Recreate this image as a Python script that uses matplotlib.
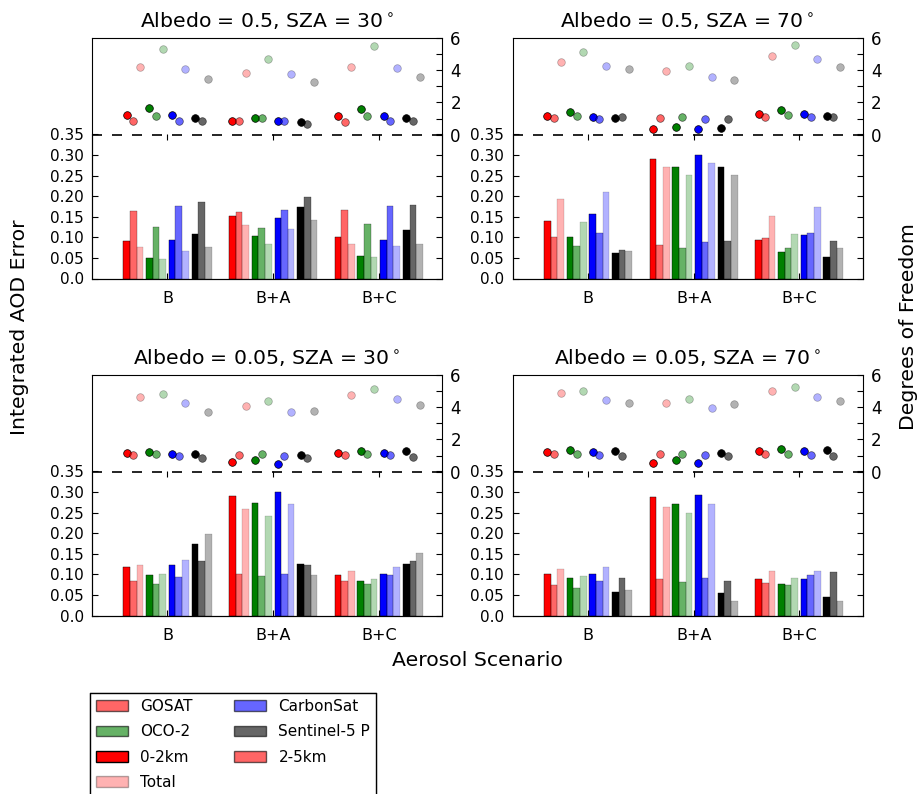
import matplotlib
matplotlib.use('Agg')
import matplotlib.pyplot as plt
from matplotlib.patches import Patch
from matplotlib.ticker import MultipleLocator

scenarios = ['B', 'B+A', 'B+C']
instruments = ['GOSAT', 'OCO-2', 'CarbonSat', 'Sentinel-5 P']
inst_colors = ['red', 'green', 'blue', 'black']
layer_alpha = [1.0, 0.6, 0.3]   # 0-2km, 2-5km, Total

titles = ['Albedo = 0.5, SZA = 30$^\\circ$', 'Albedo = 0.5, SZA = 70$^\\circ$',
          'Albedo = 0.05, SZA = 30$^\\circ$', 'Albedo = 0.05, SZA = 70$^\\circ$']

# rows: GOSAT, OCO-2, CarbonSat, Sentinel-5 P ; columns: B, B+A, B+C
# albedo 0.5, sza 30
aod_02_a = [[0.091, 0.152, 0.100], [0.050, 0.103, 0.055], [0.094, 0.147, 0.094], [0.109, 0.173, 0.118]]
aod_25_a = [[0.164, 0.161, 0.167], [0.126, 0.123, 0.132], [0.176, 0.167, 0.176], [0.185, 0.199, 0.179]]
aod_tot_a = [[0.076, 0.129, 0.085], [0.047, 0.085, 0.053], [0.067, 0.120, 0.079], [0.076, 0.141, 0.085]]
dof_02_a = [[1.24, 0.85, 1.18], [1.63, 1.03, 1.61], [1.20, 0.85, 1.18], [1.03, 0.78, 1.03]]
dof_25_a = [[0.85, 0.85, 0.80], [1.15, 1.05, 1.15], [0.82, 0.85, 0.82], [0.82, 0.68, 0.82]]
dof_tot_a = [[4.19, 3.81, 4.23], [5.32, 4.68, 5.48], [4.08, 3.77, 4.16], [3.46, 3.26, 3.57]]

# albedo 0.5, sza 70
aod_02_b = [[0.140, 0.290, 0.094], [0.100, 0.270, 0.064], [0.156, 0.301, 0.105], [0.062, 0.270, 0.053]]
aod_25_b = [[0.102, 0.081, 0.099], [0.079, 0.075, 0.075], [0.111, 0.088, 0.111], [0.070, 0.091, 0.091]]
aod_tot_b = [[0.193, 0.270, 0.152], [0.137, 0.251, 0.109], [0.211, 0.281, 0.173], [0.067, 0.251, 0.075]]
dof_02_b = [[1.15, 0.37, 1.28], [1.40, 0.47, 1.51], [1.09, 0.33, 1.26], [1.05, 0.43, 1.15]]
dof_25_b = [[1.03, 1.05, 1.07], [1.15, 1.13, 1.20], [0.99, 0.99, 1.07], [1.09, 0.99, 1.07]]
dof_tot_b = [[4.52, 3.94, 4.91], [5.11, 4.27, 5.57], [4.27, 3.59, 4.68], [4.08, 3.40, 4.23]]

# albedo 0.05, sza 30
aod_02_c = [[0.117, 0.290, 0.099], [0.099, 0.273, 0.085], [0.123, 0.301, 0.102], [0.173, 0.126, 0.126]]
aod_25_c = [[0.085, 0.102, 0.085], [0.076, 0.096, 0.076], [0.093, 0.102, 0.099], [0.132, 0.123, 0.132]]
aod_tot_c = [[0.123, 0.258, 0.108], [0.102, 0.241, 0.088], [0.135, 0.270, 0.119], [0.197, 0.099, 0.152]]
dof_02_c = [[1.15, 0.58, 1.18], [1.20, 0.74, 1.26], [1.11, 0.49, 1.15], [1.07, 1.05, 1.26]]
dof_25_c = [[1.03, 1.01, 1.03], [1.11, 1.09, 1.11], [0.99, 0.99, 1.01], [0.87, 0.87, 0.93]]
dof_tot_c = [[4.64, 4.10, 4.78], [4.85, 4.41, 5.11], [4.29, 3.69, 4.54], [3.73, 3.75, 4.12]]

# albedo 0.05, sza 70
aod_02_d = [[0.102, 0.288, 0.088], [0.090, 0.270, 0.076], [0.102, 0.293, 0.088], [0.058, 0.055, 0.044]]
aod_25_d = [[0.073, 0.088, 0.079], [0.067, 0.081, 0.073], [0.085, 0.090, 0.099], [0.090, 0.084, 0.106]]
aod_tot_d = [[0.114, 0.264, 0.108], [0.096, 0.249, 0.090], [0.117, 0.270, 0.108], [0.061, 0.035, 0.035]]
dof_02_d = [[1.24, 0.56, 1.28], [1.32, 0.70, 1.38], [1.22, 0.52, 1.28], [1.28, 1.15, 1.32]]
dof_25_d = [[1.07, 1.07, 1.07], [1.13, 1.13, 1.13], [1.01, 1.03, 1.01], [0.99, 0.99, 0.97]]
dof_tot_d = [[4.87, 4.25, 4.99], [5.03, 4.54, 5.26], [4.43, 3.94, 4.62], [4.27, 4.19, 4.41]]

panels = [
    (aod_02_a, aod_25_a, aod_tot_a, dof_02_a, dof_25_a, dof_tot_a),
    (aod_02_b, aod_25_b, aod_tot_b, dof_02_b, dof_25_b, dof_tot_b),
    (aod_02_c, aod_25_c, aod_tot_c, dof_02_c, dof_25_c, dof_tot_c),
    (aod_02_d, aod_25_d, aod_tot_d, dof_02_d, dof_25_d, dof_tot_d),
]

W, H = 919, 794
fig = plt.figure(figsize=(W / 100, H / 100), dpi=100)

width = 0.063
pitch = 0.215
xlim = (-0.714, 2.598)
lefts = [92, 512.5]
tops = [38, 375]
pw, ph = 350, 240.5
bar_frac = 0.599
big = 14.7
tick_fs = 11


def make_panel(k, data):
    l = lefts[k % 2] / W
    b = (H - tops[k // 2] - ph) / H
    w = pw / W
    h = ph / H

    ax = fig.add_axes([l, b, w, h])
    ax.set_xlim(xlim)
    ax.set_ylim(-8.92, 6)
    ax.set_xticks([])
    ax.yaxis.tick_right()
    ax.set_yticks(range(7))
    ax.set_yticklabels(['0', '', '2', '', '4', '', '6'])
    ax.tick_params(axis='y', direction='in', length=4.5, labelsize=tick_fs + 1, pad=6)
    ax.axhline(0, color='k', lw=1.2, linestyle=(0, (6, 6)))
    ax.set_title(titles[k], fontsize=big, pad=8)

    axb = fig.add_axes([l, b, w, h * bar_frac])
    axb.patch.set_alpha(0)
    axb.set_xlim(xlim)
    axb.set_ylim(0, 0.35)
    axb.spines['top'].set_visible(False)
    axb.set_yticks([0, 0.05, 0.10, 0.15, 0.20, 0.25, 0.30, 0.35])
    axb.set_yticklabels(['0.0', '0.05', '0.10', '0.15', '0.20', '0.25', '0.30', '0.35'])
    axb.set_xticks(range(len(scenarios)))
    axb.set_xticklabels(scenarios)
    axb.tick_params(direction='in', length=4.5, labelsize=tick_fs, top=True, right=True)
    axb.tick_params(axis='y', pad=6)
    axb.tick_params(axis='x', pad=9, labelsize=tick_fs + 0.5)

    aod_sets = data[:3]
    dof_sets = data[3:]
    for i, col in enumerate(inst_colors):
        for j in range(3):
            xs = [c + (i - 1.5) * pitch + (j - 1) * width for c in range(len(scenarios))]
            axb.bar(xs, aod_sets[j][i], width, color=col, alpha=layer_alpha[j],
                    edgecolor='k', linewidth=0.3)
            ax.plot(xs, dof_sets[j][i], 'o', color=col, alpha=layer_alpha[j],
                    mec='k', mew=0.5, ms=5.5, zorder=3)


for k in range(4):
    make_panel(k, panels[k])

fig.text(20 / W, 1 - 327 / H, 'Integrated AOD Error', rotation=90, ha='center', va='center', fontsize=big)
fig.text(908 / W, 1 - 327 / H, 'Degrees of Freedom', rotation=90, ha='center', va='center', fontsize=big)
fig.text(477 / W, 1 - 660 / H, 'Aerosol Scenario', ha='center', va='center', fontsize=big)

# legend sits in an empty axes below the panels (runs off the figure bottom)
leg_top = 692.7
ax_leg = fig.add_axes([90 / W, -110 / H, 286 / W, (H - leg_top + 110) / H])
ax_leg.set_xlim(-0.2, 2.5)
ax_leg.set_xticks([0, 1, 2])
ax_leg.set_ylim(-3.0, 3.73)
ax_leg.yaxis.set_major_locator(MultipleLocator(1))
ax_leg.tick_params(direction='in', length=4, labelbottom=False, labelleft=False, top=True, right=True)

handles = [
    Patch(facecolor='red', edgecolor='k', alpha=0.6),
    Patch(facecolor='green', edgecolor='k', alpha=0.6),
    Patch(facecolor='red', edgecolor='k', alpha=1.0),
    Patch(facecolor='red', edgecolor='k', alpha=0.3),
    Patch(facecolor='blue', edgecolor='k', alpha=0.6),
    Patch(facecolor='black', edgecolor='k', alpha=0.6),
    Patch(facecolor='red', edgecolor='k', alpha=0.6),
]
labels = ['GOSAT', 'OCO-2', '0-2km', 'Total', 'CarbonSat', 'Sentinel-5 P', '2-5km']
leg = ax_leg.legend(handles, labels, loc='upper left', bbox_to_anchor=(0, 1), borderaxespad=0,
                    ncol=2, fontsize=11, labelspacing=0.68, handlelength=2.1,
                    columnspacing=2.7, fancybox=False, framealpha=1)
leg.get_frame().set_edgecolor('k')
leg.get_frame().set_linewidth(1.0)

fig.savefig('out.png', dpi=100)
